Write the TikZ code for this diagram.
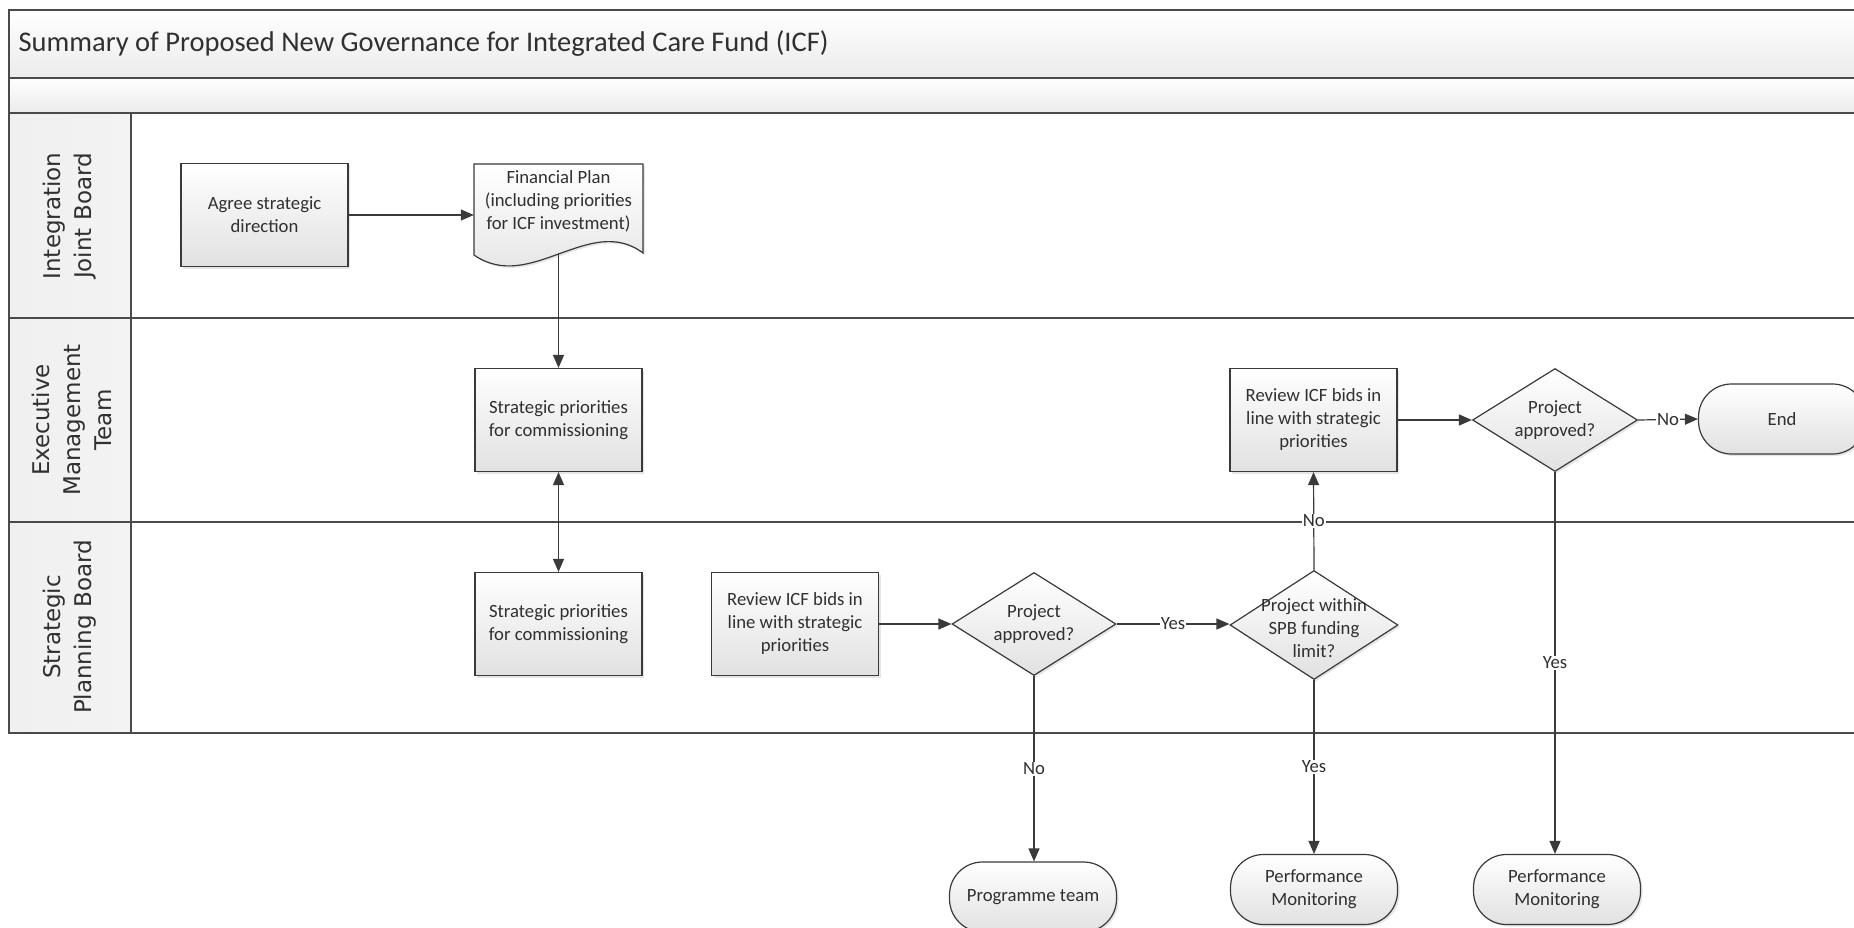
\documentclass[tikz,border=0pt]{standalone}
\usepackage{fontspec}
\setmainfont{Carlito}
\newfontfamily\lanefont{DejaVu Sans}
\usetikzlibrary{shapes.geometric,arrows.meta,shadows}

\definecolor{framec}{HTML}{4A4A4A}
\definecolor{edgec}{HTML}{3A3A3A}
\definecolor{shapeb}{HTML}{E1E1E1}
\definecolor{bandb}{HTML}{EBEBEB}
\definecolor{colfill}{HTML}{F0F0F0}
\definecolor{txtc}{HTML}{303030}

\tikzset{
  nodefont/.style={font=\fontsize{18.7}{23}\selectfont, text=txtc},
  frameline/.style={draw=framec, line width=1.8pt},
  shaded/.style={draw=edgec, line width=1.2pt, top color=white, bottom color=shapeb,
    drop shadow={shadow xshift=2pt, shadow yshift=-2pt, opacity=0.2, fill=gray}},
  procbox/.style={shaded, rectangle, nodefont, align=center,
    minimum width=167pt, minimum height=103pt, inner sep=2pt},
  decision/.style={shaded, diamond, inner sep=0pt, minimum width=165pt, minimum height=103pt},
  dtext/.style={nodefont, align=center},
  term/.style={shaded, rectangle, rounded corners=33pt, nodefont, align=center,
    minimum width=167pt, minimum height=70pt},
  lanelab/.style={rotate=90, align=center, text=txtc,
    font=\lanefont\fontsize{23}{31}\selectfont},
  conn/.style={draw=edgec, line width=1.2pt, -{Triangle[length=13pt,width=11pt]}},
  lbl/.style={nodefont, fill=white, inner sep=1pt}
}

\begin{document}
\begin{tikzpicture}[x=1pt, y=-1pt]
\useasboundingbox (0,0) rectangle (1854,928);
\fill[white] (0,0) rectangle (1854,928);

% pool header bands and lane label column
\shade[top color=white, bottom color=bandb] (9,10) rectangle (1870,78);
\shade[top color=white, bottom color=bandb] (9,78) rectangle (1870,113);
\shade[left color=colfill, right color=colfill!80!white] (9,113) rectangle (131,733);

\draw[frameline] (1870,10) -- (9,10) -- (9,733) -- (1870,733);
\draw[frameline] (9,78) -- (1870,78);
\draw[frameline] (9,113) -- (1870,113);
\draw[frameline] (9,318) -- (1870,318);
\draw[frameline] (9,522) -- (1870,522);
\draw[frameline] (131,113) -- (131,733);

\node[anchor=west, text=txtc, font=\fontsize{28.5}{34}\selectfont] (title) at (15,44)
  {Summary of Proposed New Governance for Integrated Care Fund (ICF)};

\node[lanelab] (laneA) at (70,216) {Integration\\Joint Board};
\node[lanelab] (laneB) at (72,420) {Executive\\Management\\Team};
\node[lanelab] (laneC) at (70,627) {Strategic\\Planning Board};

% Integration Joint Board
\node[procbox] (agree) at (264.5,215) {Agree strategic\\direction};
\draw[shaded] (474,164) -- (643,164) -- (643,253)
  .. controls (590,213) and (530,294) .. (474,255) -- cycle;
\node[minimum width=169pt, minimum height=89pt, inner sep=0pt,
  label={[dtext, yshift=7pt]center:Financial Plan\\(including priorities\\for ICF investment)}]
  (fin) at (558.5,208.5) {};
\coordinate (finbot) at (558.5,253);

% Executive Management Team
\node[procbox] (spE) at (558.5,420) {Strategic priorities\\for commissioning};
\node[procbox] (revE) at (1313.5,420) {Review ICF bids in\\line with strategic\\priorities};
\node[decision, label={[dtext]center:Project\\approved?}] (apprE) at (1555,420) {};
\node[term] (endn) at (1782,419) {End};

% Strategic Planning Board
\node[procbox] (spS) at (558.5,624) {Strategic priorities\\for commissioning};
\node[procbox] (revS) at (795,624) {Review ICF bids in\\line with strategic\\priorities};
\node[decision, minimum width=164pt, label={[dtext]center:Project\\approved?}] (apprS) at (1034,624) {};
\node[decision, minimum width=168pt, minimum height=109pt,
  label={[dtext, yshift=-3pt]center:Project within\\SPB funding\\limit?}] (lim) at (1314,625) {};

% outcomes below the pool
\node[term] (prog) at (1033,897) {Programme team};
\node[term] (pm1) at (1314,889.5) {Performance\\Monitoring};
\node[term] (pm2) at (1557,889.5) {Performance\\Monitoring};

% connectors
\draw[conn] (agree.east) -- (agree.east -| fin.west);
\draw[conn] (finbot) -- (spE.north);
\draw[conn, {Triangle[length=13pt,width=11pt]}-{Triangle[length=13pt,width=11pt]}] (spE.south) -- (spS.north);
\draw[conn] (revS.east) -- (apprS.west);
\draw[conn] (apprS.east) -- node[lbl] {Yes} (apprS.east -| lim.west);
\draw[conn] (lim.north) -- node[lbl] {No} (revE.south);
\draw[conn] (revE.east) -- (apprE.west);
\draw[conn] (apprE.east) -- node[lbl] {No} (endn.west);
\draw[conn] (apprE.south) -- node[lbl] {Yes} (apprE.south |- pm2.north);
\draw[conn] (lim.south) -- node[lbl] {Yes} (lim.south |- pm1.north);
\draw[conn] (apprS.south) -- node[lbl] {No} (apprS.south |- prog.north);
\end{tikzpicture}
\end{document}
